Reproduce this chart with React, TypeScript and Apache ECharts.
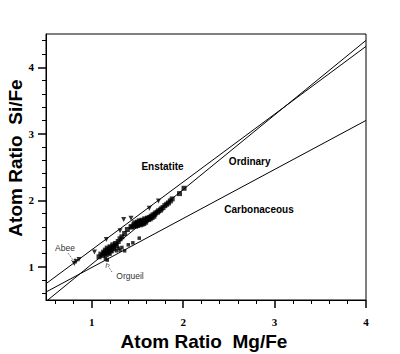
import React, { useEffect, useRef } from "react";
import * as echarts from "echarts";

// Axis ticks
const xMajor = [1, 2, 3, 4];
const xMinor = [0.6, 0.8, 1.2, 1.4, 1.6, 1.8, 2.2, 2.4, 2.6, 2.8, 3.2, 3.4, 3.6, 3.8];
const yMajor = [1, 2, 3, 4];
const yMinor = [0.6, 0.8, 1.2, 1.4, 1.6, 1.8, 2.2, 2.4, 2.6, 2.8, 3.2, 3.4, 3.6, 3.8, 4.2, 4.4];

// Trend lines
const enstatiteLine = [[0.5, 0.745], [4, 4.314]];
const ordinaryLine = [[0.52, 0.5], [4, 4.404]];
const carbonaceousLine = [[0.5, 0.62], [4, 3.2]];

// Data points
const enstatitePts = [
  [0.81, 1.05], [0.83, 1.08], [0.86, 1.11], [1.03, 1.22], [1.16, 1.41],
  [1.31, 1.54], [1.35, 1.71], [1.43, 1.73], [1.63, 1.88], [1.73, 1.99],
];
const ordinaryPts = [
  [1.44, 1.6], [1.46, 1.63], [1.47, 1.66], [1.48, 1.61], [1.49, 1.64], [1.5, 1.67],
  [1.5, 1.62], [1.51, 1.65], [1.52, 1.69], [1.53, 1.63], [1.53, 1.66], [1.54, 1.68],
  [1.55, 1.64], [1.55, 1.7], [1.56, 1.67], [1.57, 1.65], [1.58, 1.69], [1.58, 1.72],
  [1.59, 1.67], [1.6, 1.7], [1.61, 1.73], [1.62, 1.71], [1.63, 1.74], [1.64, 1.72],
  [1.65, 1.76], [1.66, 1.74], [1.67, 1.78], [1.68, 1.76], [1.69, 1.79], [1.7, 1.81],
  [1.72, 1.82], [1.73, 1.84], [1.75, 1.85], [1.76, 1.87], [1.78, 1.89], [1.8, 1.92],
  [1.82, 1.94], [1.84, 1.96], [1.86, 1.99], [1.88, 2.02], [1.96, 2.1], [2.01, 2.18],
];
const lowerPts = [
  [1.08, 1.15], [1.1, 1.19], [1.12, 1.17], [1.13, 1.22], [1.14, 1.2], [1.15, 1.25],
  [1.16, 1.18], [1.17, 1.23], [1.17, 1.28], [1.18, 1.21], [1.19, 1.26], [1.2, 1.3],
  [1.21, 1.24], [1.22, 1.28], [1.23, 1.33], [1.24, 1.3], [1.26, 1.35], [1.27, 1.32],
  [1.29, 1.38], [1.31, 1.42], [1.33, 1.45], [1.36, 1.5], [1.39, 1.56], [1.43, 1.6],
];
const carbonaceousPts = [
  [1.15, 1.12], [1.17, 1.1], [1.2, 1.19], [1.22, 1.23], [1.25, 1.26], [1.27, 1.24],
  [1.29, 1.28], [1.31, 1.25], [1.33, 1.29], [1.36, 1.24], [1.4, 1.33], [1.45, 1.36],
  [1.52, 1.43],
];

const sans = "'Liberation Sans', Arial, sans-serif";

export default function App() {
  const ref = useRef<HTMLDivElement>(null);
  useEffect(() => {
    if (!ref.current) return;
    const chart = echarts.init(ref.current, null, { renderer: "svg" });
    const lineSeries = (data: number[][]) => ({
      type: "line",
      data,
      symbol: "none",
      lineStyle: { color: "#000", width: 1 },
      z: 2,
      silent: true,
    });
    const axisCommon = {
      type: "value",
      splitLine: { show: false },
    };
    const tickLabel = { fontFamily: "serif", fontWeight: "bold", fontSize: 11, color: "#000" };
    chart.setOption({
      animation: false,
      backgroundColor: "#fff",
      grid: {
        left: 46, right: 34, top: 34, bottom: 54,
        show: true, borderColor: "#000", borderWidth: 1, backgroundColor: "transparent",
      },
      xAxis: [
        {
          ...axisCommon, min: 0.5, max: 4, position: "bottom",
          axisLine: { show: true, lineStyle: { color: "#000", width: 1 } },
          axisTick: { show: true, inside: false, length: 8, customValues: xMajor, lineStyle: { color: "#000", width: 1.5 } },
          axisLabel: { customValues: xMajor, margin: 16, ...tickLabel },
        },
        {
          ...axisCommon, min: 0.5, max: 4, position: "bottom",
          axisLine: { show: false },
          axisTick: { show: true, inside: false, length: 4, customValues: xMinor, lineStyle: { color: "#000", width: 1 } },
          axisLabel: { show: false },
        },
      ],
      yAxis: [
        {
          ...axisCommon, min: 0.5, max: 4.5, position: "left",
          axisLine: { show: true, lineStyle: { color: "#000", width: 1 } },
          axisTick: { show: true, inside: false, length: 8, customValues: yMajor, lineStyle: { color: "#000", width: 1.5 } },
          axisLabel: { customValues: yMajor, margin: 12, ...tickLabel },
        },
        {
          ...axisCommon, min: 0.5, max: 4.5, position: "left",
          axisLine: { show: false },
          axisTick: { show: true, inside: false, length: 4, customValues: yMinor, lineStyle: { color: "#000", width: 1 } },
          axisLabel: { show: false },
        },
      ],
      series: [
        lineSeries(enstatiteLine),
        lineSeries(ordinaryLine),
        lineSeries(carbonaceousLine),
        { type: "scatter", data: lowerPts, symbol: "rect", symbolSize: 5, itemStyle: { color: "#000" }, z: 3 },
        { type: "scatter", data: carbonaceousPts, symbol: "rect", symbolSize: 3.5, itemStyle: { color: "#000" }, z: 3 },
        { type: "scatter", data: ordinaryPts, symbol: "rect", symbolSize: 5, itemStyle: { color: "#000" }, z: 3 },
        { type: "scatter", data: enstatitePts, symbol: "triangle", symbolRotate: 180, symbolSize: 5, itemStyle: { color: "#000" }, z: 3 },
      ],
      graphic: [
        { type: "text", x: 204, y: 341, style: { text: "Atom Ratio  Mg/Fe", font: `bold 19px ${sans}`, fill: "#000", align: "center", verticalAlign: "middle" } },
        { type: "text", x: 15, y: 158, rotation: Math.PI / 2, style: { text: "Atom Ratio  Si/Fe", font: `bold 19px ${sans}`, fill: "#000", align: "center", verticalAlign: "middle" } },
        { type: "text", x: 162.5, y: 166.5, style: { text: "Enstatite", font: `bold 10px ${sans}`, fill: "#000", align: "center", verticalAlign: "middle" } },
        { type: "text", x: 249.7, y: 161.7, style: { text: "Ordinary", font: `bold 10px ${sans}`, fill: "#000", align: "center", verticalAlign: "middle" } },
        { type: "text", x: 259, y: 209.3, style: { text: "Carbonaceous", font: `bold 10px ${sans}`, fill: "#000", align: "center", verticalAlign: "middle" } },
        { type: "text", x: 65, y: 248, style: { text: "Abee", font: `8.5px ${sans}`, fill: "#333", align: "center", verticalAlign: "middle" } },
        { type: "text", x: 130, y: 276.3, style: { text: "Orgueil", font: `8.5px ${sans}`, fill: "#333", align: "center", verticalAlign: "middle" } },
        { type: "line", shape: { x1: 68, y1: 253, x2: 73.5, y2: 260.5 }, style: { stroke: "#555", lineWidth: 1, lineDash: [1, 1] } },
        { type: "polyline", shape: { points: [[71, 260], [75, 263], [75, 258]] }, style: { stroke: "#555", lineWidth: 0.8, fill: "none" } },
        { type: "line", shape: { x1: 112, y1: 272, x2: 108, y2: 266 }, style: { stroke: "#555", lineWidth: 1, lineDash: [1, 1] } },
        { type: "polyline", shape: { points: [[106, 268], [106.5, 263.5], [110, 265.5]] }, style: { stroke: "#555", lineWidth: 0.8, fill: "none" } },
      ],
    });
    return () => chart.dispose();
  }, []);
  return (
    <div
      ref={ref}
      style={{ position: "absolute", left: 0, top: 0, width: 400, height: 354 }}
    />
  );
}
